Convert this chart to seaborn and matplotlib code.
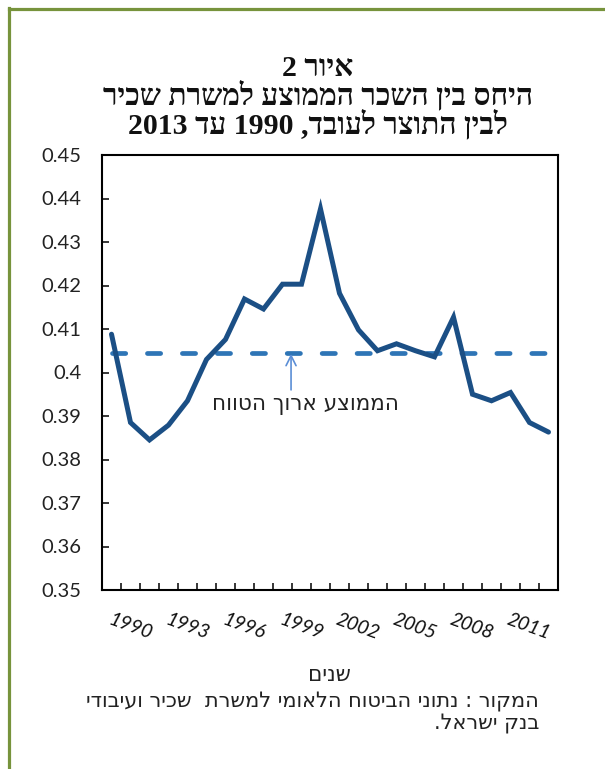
import re
import numpy as np
import pandas as pd
import matplotlib
matplotlib.use("Agg")
import matplotlib.pyplot as plt
from matplotlib.lines import Line2D
import seaborn as sns

# ---------------- data ----------------
years = list(range(1990, 2014))
ratio = [0.4088, 0.3885, 0.3845, 0.3879, 0.3935, 0.4030, 0.4076, 0.4169,
         0.4146, 0.4203, 0.4203, 0.4376, 0.4182, 0.4098, 0.4050, 0.4066,
         0.4050, 0.4036, 0.4127, 0.3950, 0.3935, 0.3954, 0.3885, 0.3863]
long_run_avg = 0.4044
label_years = [1990, 1993, 1996, 1999, 2002, 2005, 2008, 2011]
y_ticks = [0.35, 0.36, 0.37, 0.38, 0.39, 0.40, 0.41, 0.42, 0.43, 0.44, 0.45]
y_tick_labels = ["0.35", "0.36", "0.37", "0.38", "0.39", "0.4", "0.41",
                 "0.42", "0.43", "0.44", "0.45"]

title_lines = ["איור 2",
               "היחס בין השכר הממוצע למשרת שכיר",
               "לבין התוצר לעובד, 1990 עד 2013"]
x_label = "שנים"
avg_label = "הממוצע ארוך הטווח"
source_lines = ["המקור : נתוני הביטוח הלאומי למשרת  שכיר ועיבודי",
                "בנק ישראל."]


def vis(s):
    """Convert logical RTL Hebrew text to visual order (keep digit runs LTR)."""
    r = s[::-1]
    return re.sub(r"\d+", lambda m: m.group(0)[::-1], r)


sns.set_theme(style="white")
plt.rcParams["font.family"] = ["Lato", "DejaVu Sans"]

W, H = 605, 769
fig = plt.figure(figsize=(W / 100, H / 100), dpi=100)
fig.patch.set_facecolor("white")

ax = fig.add_axes([102 / W, 1 - 590 / H, (558 - 102) / W, (590 - 155) / H])

df = pd.DataFrame({"year": years, "ratio": ratio})
df_avg = pd.DataFrame({"year": years, "avg": [long_run_avg] * len(years)})

sns.lineplot(data=df_avg, x="year", y="avg", ax=ax, color="#2E75B6",
             linewidth=3.4, dashes=False, solid_capstyle="round")
ax.lines[-1].set_dashes([2.8, 4.6])
ax.lines[-1].set_dash_capstyle("round")
sns.lineplot(data=df, x="year", y="ratio", ax=ax, color="#1B4F85",
             linewidth=3.6)
ax.lines[-1].set_solid_joinstyle("miter")

ax.set_xlim(1989.5, 2013.5)
ax.set_ylim(0.35, 0.45)

ax.set_yticks(y_ticks)
ax.set_yticklabels(y_tick_labels)
ax.set_xticks(label_years)
ax.set_xticklabels([str(y) for y in label_years], rotation=-20, ha="left",
                   va="top", rotation_mode="anchor", fontstyle="italic")
ax.set_xticks([y + 0.5 for y in years[:-1]], minor=True)

ax.tick_params(axis="y", direction="in", length=5, width=1.3, pad=15,
               labelsize=14.5, labelcolor="#222222", left=True)
ax.tick_params(axis="x", which="major", length=0, pad=15, labelsize=14,
               labelcolor="#111111")
ax.tick_params(axis="x", which="minor", direction="in", length=5, width=1.3,
               bottom=True)

for sp in ax.spines.values():
    sp.set_visible(True)
    sp.set_color("black")
    sp.set_linewidth(1.5)

ax.set_xlabel("")
ax.set_ylabel("")

hebrew_sans = ["DejaVu Sans"]

# annotation arrow + text
arrow_x = 1999.45
ax.annotate("", xy=(arrow_x, long_run_avg - 0.0001), xytext=(arrow_x, 0.3960),
            arrowprops=dict(arrowstyle="->", color="#5B8ED6", lw=1.2,
                            mutation_scale=18, shrinkA=0, shrinkB=0))
ax.text(2000.2, 0.3925, vis(avg_label), ha="center", va="center",
        fontsize=15.5, color="#222222", family=hebrew_sans)

# title (one multi-line text)
hebrew_bold = ["Liberation Serif", "DejaVu Serif", "DejaVu Sans"]
fig.text(318 / W, 1 - 97 / H, "\n".join(vis(l) for l in title_lines),
         ha="center", va="center", multialignment="center",
         fontsize=21.5, fontweight="bold", family=hebrew_bold,
         color="#111111", linespacing=0.92)

# x axis label
fig.text(329 / W, 1 - 675 / H, vis(x_label), ha="center", va="center",
         fontsize=15.5, family=hebrew_sans, color="#222222")

# source (one multi-line right-aligned text)
fig.text(539 / W, 1 - 713 / H, "\n".join(vis(l) for l in source_lines),
         ha="right", va="center", multialignment="right",
         fontsize=15, family=hebrew_sans, color="#222222", linespacing=1.12)

# green frame (left + top)
green = "#77933C"
fig.add_artist(Line2D([8.5 / W, 8.5 / W], [0, 1 - 8 / H], color=green,
                      linewidth=2.3, transform=fig.transFigure,
                      solid_capstyle="projecting"))
fig.add_artist(Line2D([8.5 / W, 1], [1 - 9 / H, 1 - 9 / H], color=green,
                      linewidth=2.3, transform=fig.transFigure,
                      solid_capstyle="projecting"))

fig.savefig("out.png", dpi=100)
